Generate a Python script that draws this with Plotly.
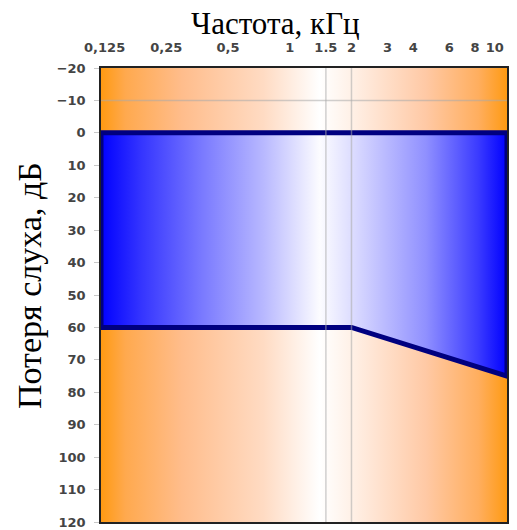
import math
import plotly.graph_objects as go

# ---- data ----
FREQ_TICKS = [0.125, 0.25, 0.5, 1, 1.5, 2, 3, 4, 6, 8, 10]
FREQ_LABELS = ["0,125", "0,25", "0,5", "1", "1.5", "2", "3", "4", "6", "8", "10"]
DB_TICKS = list(range(-20, 121, 10))
FREQ_RANGE = [0.12, 11.47]
DB_RANGE = [-20, 120]

# hearing-loss boundary (upper edge at 0 dB, lower edge threshold curve)
THRESH_FREQ = [0.12, 2, 11.47]
THRESH_DB = [60, 60, 75]
TOP_DB = 0

GRID_FREQ = [1.5, 2]
GRID_DB = [-10]

ORANGE_SCALE = [
    [0.0, "#FF9A12"], [0.06, "#FFA94E"], [0.2, "#FFBD8C"], [0.4, "#FFDBC3"],
    [0.539, "#FFFFFF"], [0.62, "#FFF0E6"], [0.8, "#FFC9A5"], [0.93, "#FFAE5E"],
    [1.0, "#FF9A12"],
]
BLUE_SCALE = [
    [0.0, "#0000FF"], [0.1, "#3535FF"], [0.25, "#7A7AFF"], [0.4, "#B8B8FF"],
    [0.539, "#FCFCFF"], [0.62, "#DCDCFF"], [0.8, "#9090FF"], [0.93, "#3A3AFF"],
    [1.0, "#0000FF"],
]

ML, MT, MR, MB = 101, 68, 10, 8
PW, PH = 406, 454

fig = go.Figure()

# orange background
fig.add_trace(go.Scatter(
    x=[FREQ_RANGE[0], FREQ_RANGE[1], FREQ_RANGE[1], FREQ_RANGE[0], FREQ_RANGE[0]],
    y=[DB_RANGE[0], DB_RANGE[0], DB_RANGE[1], DB_RANGE[1], DB_RANGE[0]],
    mode="lines", line=dict(width=0), fill="toself",
    fillgradient=dict(type="horizontal", colorscale=ORANGE_SCALE),
    hoverinfo="skip", showlegend=False,
))

# blue hearing-loss zone
bx = [THRESH_FREQ[0], THRESH_FREQ[-1]] + THRESH_FREQ[::-1] + [THRESH_FREQ[0]]
by = [TOP_DB, TOP_DB] + THRESH_DB[::-1] + [TOP_DB]
fig.add_trace(go.Scatter(
    x=bx, y=by, mode="lines", fill="toself",
    line=dict(color="#000080", width=5),
    fillgradient=dict(type="horizontal", colorscale=BLUE_SCALE),
    hoverinfo="skip", showlegend=False,
))

shapes = []
for f in GRID_FREQ:
    shapes.append(dict(type="line", xref="x", yref="paper", x0=f, x1=f, y0=0, y1=1,
                       line=dict(color="rgba(170,170,170,0.55)", width=1.5), layer="above"))
for d in GRID_DB:
    shapes.append(dict(type="line", xref="paper", yref="y", x0=0, x1=1, y0=d, y1=d,
                       line=dict(color="rgba(170,170,170,0.55)", width=1.5), layer="above"))

tick_font = dict(family="DejaVu Sans", size=13, color="#444", weight="bold")

fig.update_layout(
    width=ML + PW + MR, height=MT + PH + MB,
    margin=dict(l=ML, r=MR, t=MT, b=MB),
    paper_bgcolor="white", plot_bgcolor="white",
    shapes=shapes,
    xaxis=dict(
        type="log", side="top", automargin=False,
        range=[math.log10(FREQ_RANGE[0]), math.log10(FREQ_RANGE[1])],
        tickvals=FREQ_TICKS, ticktext=FREQ_LABELS,
        showgrid=False, zeroline=False, ticks="",
        ticklabelstandoff=9, ticklabeloverflow="allow",
        tickfont=tick_font,
        showline=True, mirror=True, linecolor="#222", linewidth=1.5,
    ),
    yaxis=dict(
        range=[DB_RANGE[1], DB_RANGE[0]], automargin=False,
        tickvals=DB_TICKS,
        showgrid=False, zeroline=False,
        ticks="outside", ticklen=5, tickcolor="#c8c8c8", tickwidth=1,
        ticklabelstandoff=6, ticklabeloverflow="allow",
        tickfont=tick_font,
        showline=True, mirror=True, linecolor="#222", linewidth=1.5,
    ),
    annotations=[
        dict(text="Частота, кГц", xref="paper", yref="paper",
             x=(275 - ML) / PW, y=1 + (MT - 23) / PH,
             xanchor="center", yanchor="middle", showarrow=False,
             font=dict(family="Liberation Serif", size=31, color="#000")),
        dict(text="Потеря слуха, дБ", xref="paper", yref="paper",
             x=(29 - ML) / PW, y=1 - (286 - MT) / PH,
             xanchor="center", yanchor="middle", showarrow=False, textangle=-90,
             font=dict(family="Liberation Serif", size=34, color="#000")),
    ],
)

fig.write_html(
    "out.html",
    config={"displayModeBar": False},
    post_script="document.body.style.margin='0';document.body.style.overflow='hidden';",
)
